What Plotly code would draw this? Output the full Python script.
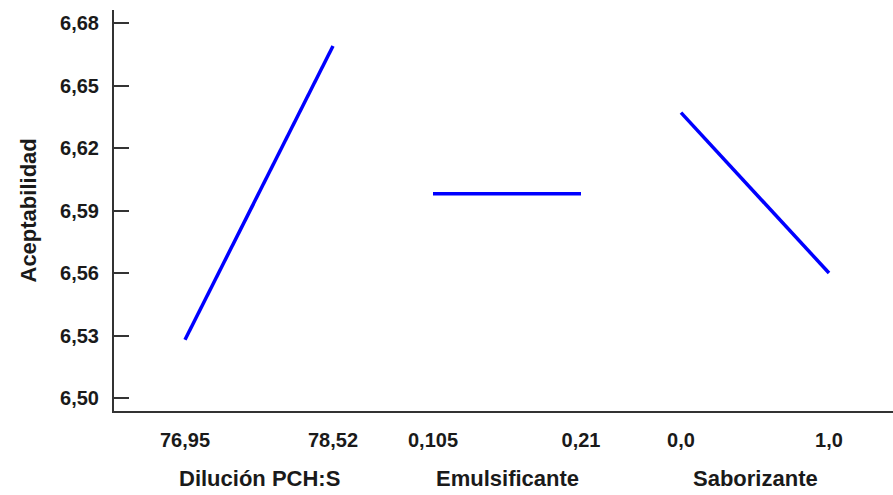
import plotly.graph_objects as go

# ---- data ----
factors = ["Dilución PCH:S", "Emulsificante", "Saborizante"]
low_labels = ["76,95", "0,105", "0,0"]
high_labels = ["78,52", "0,21", "1,0"]
low_values = [6.528, 6.598, 6.637]
high_values = [6.669, 6.598, 6.560]
y_ticks = [6.50, 6.53, 6.56, 6.59, 6.62, 6.65, 6.68]
y_tick_labels = ["6,50", "6,53", "6,56", "6,59", "6,62", "6,65", "6,68"]
y_title = "Aceptabilidad"

# ---- layout constants ----
SEG = 148
GAP = 100
FONT = "Liberation Sans, Arial, sans-serif"
TXT = "#1a1a1a"
FS = 20
FS_TITLE = 22

fig = go.Figure()
tickvals, ticktext = [], []
for k, name in enumerate(factors):
    x0 = k * (SEG + GAP)
    x1 = x0 + SEG
    fig.add_trace(go.Scatter(
        x=[x0, x1], y=[low_values[k], high_values[k]],
        mode="lines", line=dict(color="#0000ff", width=3.5),
        showlegend=False, hoverinfo="skip"))
    tickvals += [x0, x1]
    ticktext += [low_labels[k], high_labels[k]]
    fig.add_annotation(
        x=(x0 + x1) / 2, xref="x", y=0, yref="paper",
        yshift=-67, yanchor="middle", xanchor="center",
        text="<b>%s</b>" % name, showarrow=False,
        font=dict(family=FONT, size=FS_TITLE, color=TXT))

fig.add_annotation(
    x=0, xref="paper", y=0.5, yref="paper", xshift=-86,
    xanchor="center", yanchor="middle", textangle=-90,
    text="<b>%s</b>" % y_title, showarrow=False,
    font=dict(family=FONT, size=FS_TITLE, color=TXT))

fig.update_xaxes(
    range=[-71, 708], tickvals=tickvals,
    ticktext=["<b>%s</b>" % t for t in ticktext],
    showline=True, linecolor="#333333", linewidth=2,
    ticks="outside", ticklen=10, tickcolor="rgba(0,0,0,0)",
    showgrid=False, zeroline=False,
    tickfont=dict(family=FONT, size=FS, color=TXT))
fig.update_yaxes(
    range=[6.49376, 6.68624], tickvals=y_ticks,
    ticktext=["<b>%s</b>" % t for t in y_tick_labels],
    showline=True, linecolor="#333333", linewidth=2,
    ticks="inside", ticklen=15, tickwidth=2, tickcolor="#333333",
    ticklabelstandoff=9,
    showgrid=False, zeroline=False,
    tickfont=dict(family=FONT, size=FS, color=TXT))

fig.update_layout(
    width=893, height=495,
    margin=dict(l=114, r=0, t=10, b=84),
    plot_bgcolor="white", paper_bgcolor="white")

fig.write_html("out.html")
